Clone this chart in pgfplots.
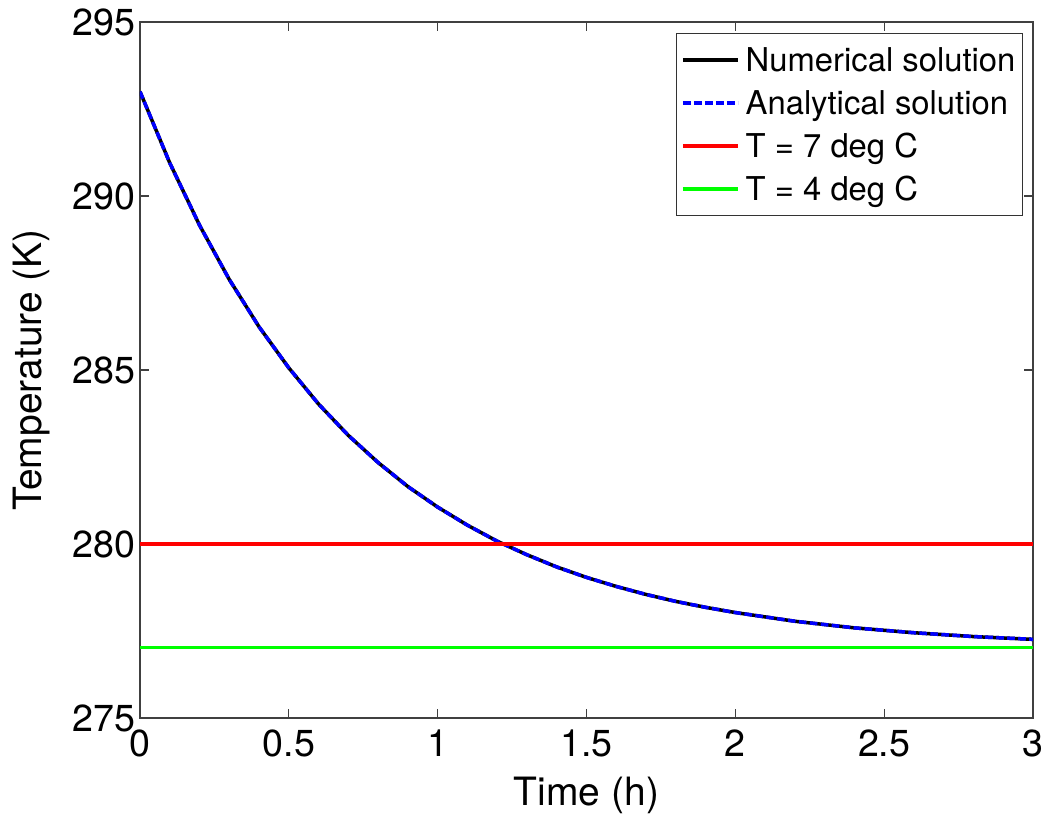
\documentclass[border=0pt]{standalone}
\usepackage{fontspec}
\setmainfont{TeX Gyre Heros}
\usepackage{pgfplots}
\pgfplotsset{compat=1.18}
\begin{document}
\begin{tikzpicture}
\begin{axis}[
  scale only axis,
  width=446.5pt, height=348pt,
  xmin=0, xmax=3, ymin=275, ymax=295,
  xtick={0,0.5,1,1.5,2,2.5,3},
  xticklabels={0,0.5,1,1.5,2,2.5,3},
  ytick={275,280,285,290,295},
  tick align=inside,
  major tick length=4.5pt,
  axis line style={draw=black!75, line width=0.6pt},
  every tick/.style={draw=black!75, line width=0.6pt},
  /pgf/number format/assume math mode=true,
  ticklabel style={font=\fontsize{18.8}{22}\selectfont},
  xticklabel style={yshift=-2.5pt},
  yticklabel style={xshift=1.3pt},
  label style={font=\fontsize{19.5}{23}\selectfont},
  xlabel={Time (h)},
  ylabel={Temperature (K)},
  xlabel style={at={(axis description cs:0.5,-0.1106)}, anchor=center},
  ylabel style={at={(axis description cs:-0.122,0.5)}, anchor=center},
  legend style={at={(rel axis cs:1,1)}, xshift=-5pt, yshift=-5.5pt, anchor=north east,
    draw=black!80, line width=0.5pt, fill=white,
    font=\fontsize{16.4}{20}\selectfont, row sep=4.3pt,
    inner xsep=2.5pt, inner ysep=4.65pt,
    nodes={inner sep=1pt, text height=13.5pt, text depth=1.7pt}},
  legend cell align=left,
  legend image code/.code={\draw[#1] (3pt,0pt) -- (30.5pt,0pt); \path (32.5pt,0pt);},
]
\addplot[black, line width=1.75pt] coordinates {
(0,293.00) (0.1,290.95) (0.2,289.16) (0.3,287.60) (0.4,286.24) (0.5,285.06)
(0.6,284.02) (0.7,283.12) (0.8,282.34) (0.9,281.65) (1.0,281.06) (1.1,280.54)
(1.2,280.08) (1.3,279.69) (1.4,279.34) (1.5,279.04) (1.6,278.78) (1.7,278.55)
(1.8,278.35) (1.9,278.18) (2.0,278.03) (2.2,277.78) (2.4,277.59) (2.6,277.45)
(2.8,277.34) (3.0,277.26)};
\addlegendentry{Numerical solution}
\addplot[blue, line width=1.75pt, dash pattern=on 3.8pt off 1.7pt] coordinates {
(0,293.00) (0.1,290.95) (0.2,289.16) (0.3,287.60) (0.4,286.24) (0.5,285.06)
(0.6,284.02) (0.7,283.12) (0.8,282.34) (0.9,281.65) (1.0,281.06) (1.1,280.54)
(1.2,280.08) (1.3,279.69) (1.4,279.34) (1.5,279.04) (1.6,278.78) (1.7,278.55)
(1.8,278.35) (1.9,278.18) (2.0,278.03) (2.2,277.78) (2.4,277.59) (2.6,277.45)
(2.8,277.34) (3.0,277.26)};
\addlegendentry{Analytical solution}
\addplot[red, line width=1.6pt] coordinates {(0,280) (3,280)};
\addlegendentry{T = 7 deg C}
\addplot[green, line width=1.6pt] coordinates {(0,277.03) (3,277.03)};
\addlegendentry{T = 4 deg C}
\end{axis}
\pgfresetboundingbox
\path[use as bounding box] ([xshift=-70pt,yshift=-50.5pt]current axis.south west) rectangle ([xshift=453pt,yshift=359pt]current axis.south west);
\end{tikzpicture}
\end{document}
